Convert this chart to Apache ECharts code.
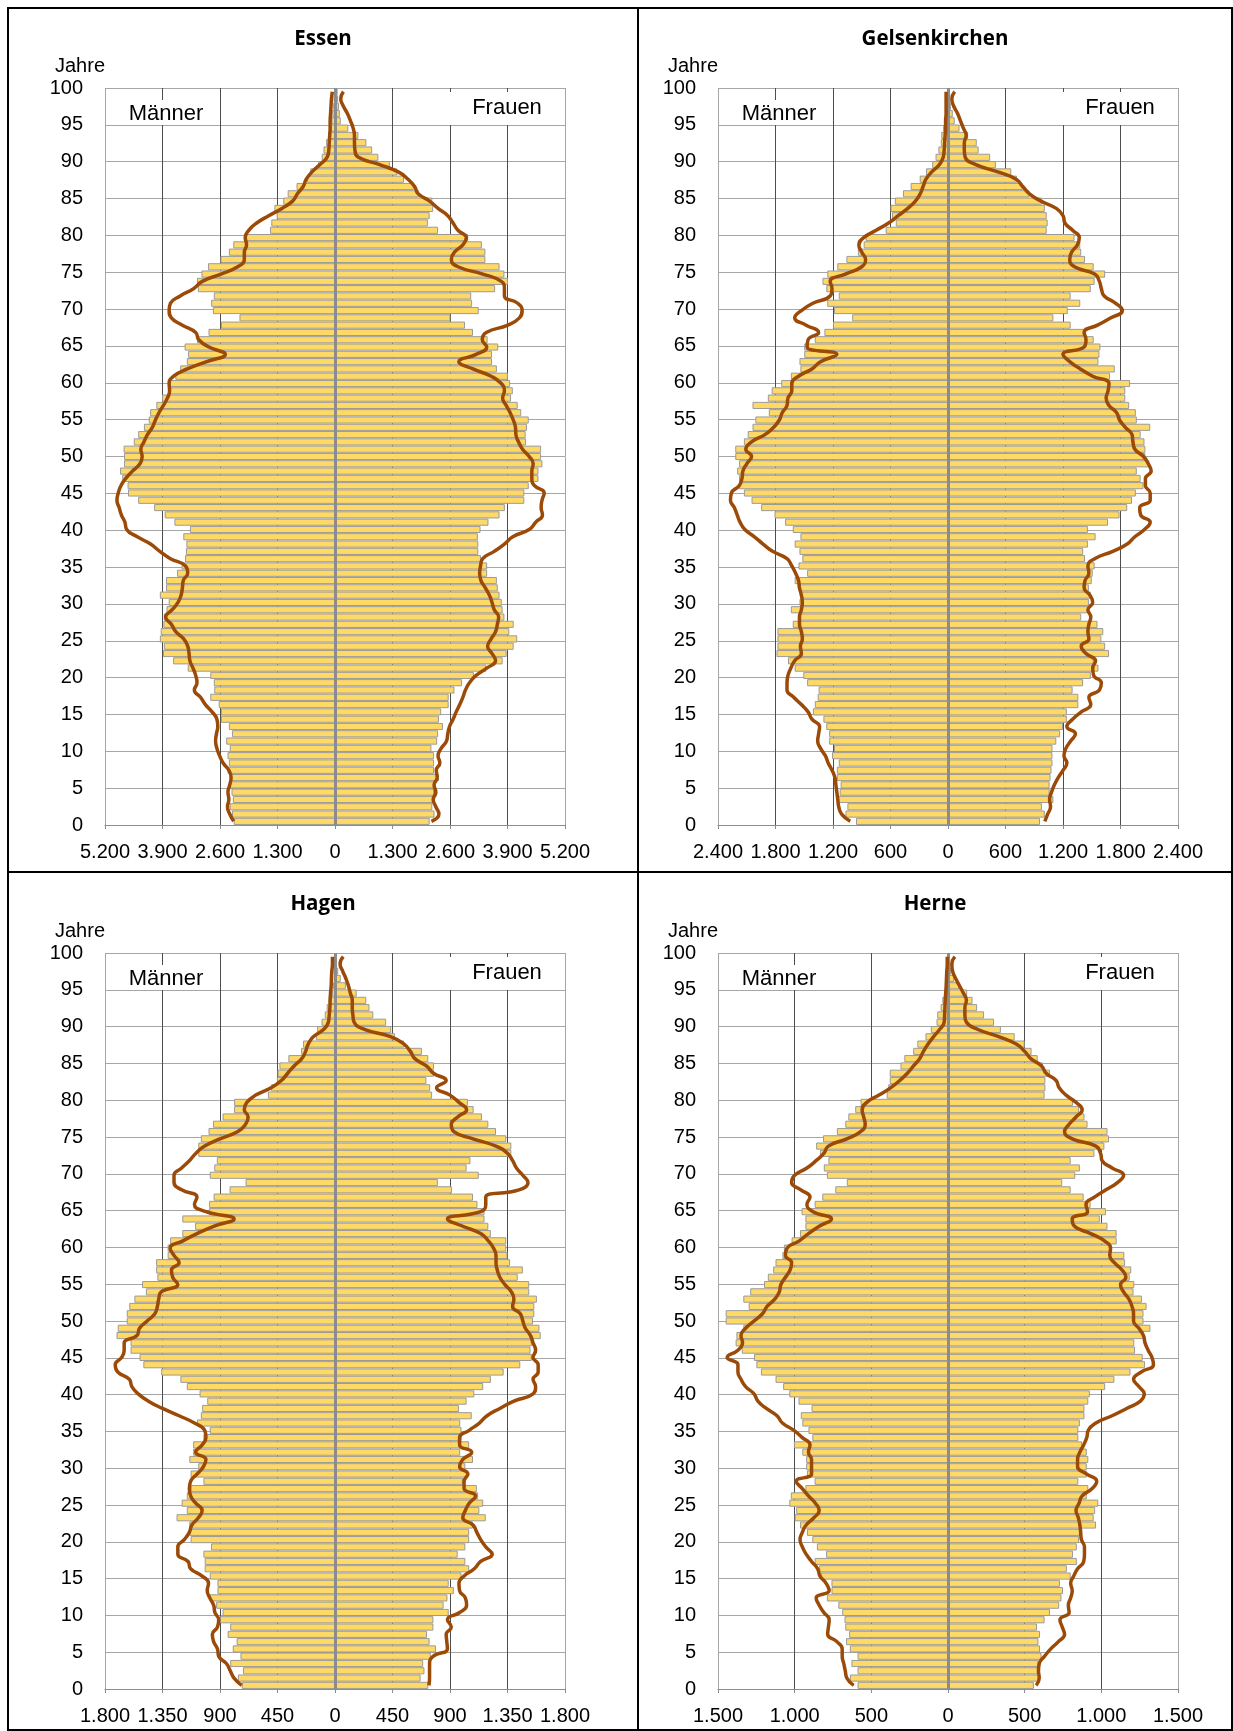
<!DOCTYPE html>
<html>
<head>
<meta charset="utf-8">
<script src="https://cdn.jsdelivr.net/npm/echarts@6/dist/echarts.min.js"></script>
<style>
html, body { margin: 0; padding: 0; background: #fff; }
#main { width: 1233px; height: 1731px; }
</style>
</head>
<body>
<div id="main"></div>
<script>
// Altersklassen von 100 (oben) bis 0 (unten)
var ages = [];
for (var a = 100; a >= 0; a--) { ages.push(String(a)); }

// alle Reihen: Alter 100 -> 0
var essenMenBars = [20,30,40,60,80,110,150,200,260,300, 380,560,640,870,1070,1170,1370,1320,1440,1470,
	2010,2300,2400,2590,2870,3020,3120,3100,2740,2800, 2760,2160,2580,2860,3120,3400,3320,3350,3500,3610,
	3760,3760,3910,4040,4180,4210,4320,4450,4550,4780,
	4770,4770,4860,4810,4690,4680,4450,4090,3850,3630, 3280,3430,3360,3370,3390,3470,3570,3820,3820,3960,
	3760,3810,3870,3880,3940,3960,3870,3890,3660,3330, 2820,2740,2730,2820,2630,2580,2580,2400,2330,2460,
	2380,2430,2400,2430,2370,2380,2340,2310,2380,2330,2290];
var essenWomenBars = [60,70,90,110,130,300,530,710,840,980, 1240,1410,1560,1780,1900,2200,2220,2140,2100,2330,
	3010,3320,3400,3400,3720,3830,3910,3620,3080,3100, 3250,2610,2940,3120,3450,3690,3550,3550,3660,3910,
	3960,4020,3980,4130,4210,4380,4340,4310,4320,4660,
	4660,4690,4600,4600,4380,4280,4280,3840,3720,3470, 3290,3230,3240,3240,3300,3440,3440,3660,3680,3720,
	3770,3790,3830,4040,3940,4120,4040,3880,3790,3420, 3140,2870,2700,2570,2570,2400,2350,2440,2330,2310,
	2180,2240,2240,2240,2350,2240,2240,2240,2200,2250,2140];
var essenMenLine = [60,80,90,100,110,110,120,130,140,180, 340,520,650,720,850,960,1200,1500,1770,1950,
	2030,2000,2050,2050,2200,2580,3000,3200,3500,3720, 3750,3700,3450,3150,3080,2850,2480,2900,3340,3650,
	3750,3740,3790,3880,3980,4060,4130,4240,4320,4390,
	4360,4410,4580,4730,4840,4900,4930,4880,4830,4750, 4710,4470,4170,3960,3720,3380,3330,3430,3450,3480,
	3550,3680,3830,3700,3600,3420,3330,3300,3280,3210, 3150,3120,3180,3040,2930,2780,2670,2650,2680,2700,
	2670,2610,2530,2400,2350,2380,2420,2400,2430,2380,2290];
var essenWomenLine = [190,130,190,280,350,410,440,440,450,530, 1010,1430,1650,1800,1880,2140,2330,2550,2670,2780,
	2970,2890,2700,2630,2780,3340,3760,3830,3830,4130, 4230,4170,3910,3420,3330,3430,3190,2800,3120,3530,
	3760,3830,3790,3870,3960,4030,4080,4090,4150,4240,
	4390,4480,4450,4450,4510,4730,4680,4660,4690,4540, 4390,4020,3830,3600,3340,3290,3270,3300,3400,3490,
	3550,3600,3700,3670,3630,3530,3450,3550,3630,3430, 3190,3040,2950,2890,2820,2740,2670,2590,2550,2520,
	2400,2330,2370,2290,2310,2240,2280,2220,2280,2350,2180];

var gelsMenBars = [10,15,20,20,35,50,70,75,100,130, 165,230,295,390,470,555,600,585,545,650,
	860,880,940,1060,1155,1260,1310,1270,1140,1260, 1190,1000,1200,1290,1390,1500,1500,1550,1540,1640,
	1740,1840,1880,2040,1870,2010,2040,2090,2130,2220,
	2220,2180,2200,2180,2180,2130,2050,1950,1810,1700, 1620,1540,1600,1550,1520,1560,1470,1600,1550,1540,
	1550,1640,1550,1620,1780,1780,1780,1790,1670,1600, 1510,1470,1350,1360,1390,1410,1300,1270,1240,1240,
	1190,1210,1140,1160,1160,1120,1130,1150,1050,1070,960];
var gelsWomenBars = [10,15,30,50,70,120,210,300,320,440, 500,660,720,780,850,980,1010,1030,1040,1030,
	1320,1380,1390,1430,1520,1640,1530,1490,1280,1380, 1250,1100,1280,1440,1520,1590,1580,1570,1740,1690,
	1900,1850,1850,1890,1960,1970,2110,2010,2050,2060,
	2060,2100,1970,2010,2040,1960,1920,1870,1790,1670, 1460,1540,1460,1410,1430,1530,1510,1500,1470,1490,
	1470,1460,1390,1560,1620,1600,1640,1680,1520,1570, 1490,1410,1300,1360,1360,1240,1240,1200,1170,1130,
	1090,1090,1090,1080,1070,1060,1060,1100,980,1010,960];
var gelsMenLine = [20,20,20,20,25,25,30,35,40,50, 90,170,230,260,290,340,420,520,620,750,
	880,930,900,860,900,1070,1230,1210,1230,1410, 1530,1600,1480,1350,1460,1470,1160,1330,1420,1560,
	1630,1630,1670,1680,1730,1760,1820,1910,2050,2110,
	2050,2100,2140,2150,2180,2260,2270,2230,2200,2170, 2120,2020,1930,1830,1680,1630,1590,1560,1550,1530,
	1520,1530,1550,1550,1530,1520,1540,1530,1600,1640, 1670,1680,1680,1610,1530,1460,1420,1340,1350,1360,
	1330,1280,1250,1210,1180,1170,1160,1150,1140,1110,1020];
var gelsWomenLine = [70,40,60,100,130,160,190,170,170,180, 290,520,710,780,850,970,1130,1200,1220,1300,
	1370,1350,1290,1270,1320,1530,1580,1600,1630,1750, 1820,1700,1560,1420,1440,1420,1200,1270,1380,1510,
	1680,1670,1650,1680,1760,1790,1850,1920,1930,1950,
	2040,2090,2120,2060,2060,2110,2110,2000,2010,2110, 2050,1950,1870,1720,1530,1460,1470,1430,1420,1480,
	1510,1460,1490,1470,1460,1470,1390,1440,1540,1510, 1520,1600,1580,1470,1490,1390,1300,1240,1330,1280,
	1230,1210,1240,1200,1150,1110,1080,1060,1070,1040,1010];

var hagenMenBars = [5,8,10,10,15,25,50,65,80,105, 140,150,250,265,365,435,450,455,500,525,
	790,790,880,955,990,1050,1070,1070,925,945, 980,700,825,950,985,985,1195,1095,1195,1290,
	1310,1310,1400,1400,1390,1510,1480,1570,1610,1630,
	1630,1700,1710,1600,1600,1530,1500,1360,1210,1160, 1060,1000,1040,1050,1080,980,1030,1110,1110,1140,
	1070,1130,1030,1130,1160,1200,1160,1240,1140,1140, 1130,970,1030,1020,1020,980,920,920,980,930,
	880,900,820,840,770,800,740,820,720,760,730];
var hagenWomenBars = [10,15,25,45,85,170,245,270,300,400, 440,470,540,680,730,775,775,715,745,760,
	1040,1085,1150,1200,1260,1340,1380,1380,1060,1030, 1125,805,915,1080,1115,1170,1170,1200,1220,1340,
	1340,1350,1370,1470,1430,1520,1520,1580,1560,1560,
	1550,1600,1610,1540,1530,1540,1450,1320,1220,1160, 1090,1030,970,1070,980,990,990,1050,980,1080,
	1020,1040,1000,1110,1120,1160,1130,1180,1080,1050, 1050,1020,960,1020,1050,990,890,930,880,850,
	890,770,770,720,740,790,750,690,700,670,730];
var hagenMenLine = [20,20,25,28,30,35,38,40,45,52, 90,170,210,230,260,320,370,420,500,620,
	690,710,680,700,760,900,1020,1090,1140,1200, 1260,1260,1200,1080,1100,1010,790,950,1080,1190,
	1290,1260,1220,1280,1270,1230,1360,1380,1390,1410,
	1470,1530,1550,1650,1650,1670,1720,1700,1610,1590, 1540,1460,1350,1220,1100,1020,1010,1040,1090,1010,
	1030,1080,1130,1140,1130,1090,1040,1070,1120,1140, 1180,1230,1230,1150,1130,1040,990,1000,980,950,
	940,910,920,960,950,920,910,850,820,790,730];
var hagenWomenLine = [65,40,60,85,105,120,135,135,140,150, 235,440,540,590,625,715,770,870,795,900,
	970,1030,960,910,930,1080,1260,1350,1390,1420, 1470,1510,1440,1180,1180,1140,880,1000,1140,1200,
	1240,1260,1260,1270,1290,1330,1380,1400,1390,1450,
	1470,1490,1530,1550,1570,1550,1590,1590,1550,1570, 1550,1400,1290,1190,1130,1050,975,975,1070,1000,
	975,1040,1010,1010,1100,1050,1020,1000,1080,1110, 1140,1180,1230,1140,1090,1010,970,975,1020,1030,
	975,880,910,870,875,880,770,740,740,740,735];

var herneMenBars = [5,8,10,10,15,22,37,48,70,75, 112,147,200,227,285,310,380,380,390,400,
	570,605,650,670,725,815,860,835,780,810, 790,660,735,820,870,955,930,930,965,1020,
	1070,1080,1125,1140,1175,1200,1290,1335,1300,1450,
	1450,1335,1380,1385,1345,1265,1250,1220,1125,1075, 1035,975,890,960,950,910,885,1005,950,925,
	925,920,870,930,1025,1035,990,1000,965,920, 885,855,795,870,840,830,760,760,790,715,
	690,675,670,645,665,640,590,630,590,640,590];
var herneWomenBars = [5,10,20,40,75,125,160,190,235,300, 345,435,500,545,585,620,665,635,635,630,
	815,855,890,910,1040,1050,1020,955,800,860, 830,745,800,885,930,1030,990,1040,1100,1100,
	1070,1150,1155,1195,1185,1215,1210,1265,1295,1275,
	1275,1320,1275,1215,1220,1270,1285,1190,1085,1025, 925,915,890,890,860,850,850,875,905,915,
	905,905,850,915,905,980,960,950,965,875, 855,840,815,840,775,800,730,750,740,725,
	665,630,580,600,590,600,610,590,600,600,560];
var herneMenLine = [5,5,8,10,12,15,18,20,22,25, 55,95,130,160,185,225,265,315,375,450,
	530,560,550,540,570,660,780,810,860,920, 1000,1020,960,900,920,880,760,840,910,970,
	1050,1060,1020,1030,1060,1090,1100,1130,1180,1210,
	1265,1320,1350,1340,1370,1440,1370,1370,1350,1320, 1265,1240,1185,1115,1080,1005,950,900,910,890,
	890,890,990,950,910,865,840,875,925,950, 965,950,925,890,850,835,795,775,860,840,
	810,775,780,785,725,690,690,680,670,660,615];
var herneWomenLine = [45,25,30,50,75,100,120,110,110,120, 195,335,445,500,540,610,640,705,725,770,
	835,875,835,790,760,810,965,995,1005,1070, 1145,1105,1030,955,900,910,810,825,930,1020,
	1060,1055,1085,1135,1160,1125,1145,1180,1200,1210,
	1210,1245,1275,1285,1305,1330,1340,1260,1210,1245, 1280,1255,1165,1070,965,915,905,885,860,845,
	845,905,970,940,875,855,835,850,860,865, 870,890,890,885,845,820,800,810,800,785,
	790,730,745,760,720,670,630,595,590,595,575];

var panels = [
	{ name: 'Essen', left: 105, top: 88, height: 737, max: 5200, step: 1300,
		menBars: essenMenBars, womenBars: essenWomenBars, menLine: essenMenLine, womenLine: essenWomenLine },
	{ name: 'Gelsenkirchen', left: 718, top: 88, height: 737, max: 2400, step: 600,
		menBars: gelsMenBars, womenBars: gelsWomenBars, menLine: gelsMenLine, womenLine: gelsWomenLine },
	{ name: 'Hagen', left: 105, top: 953, height: 736, max: 1800, step: 450,
		menBars: hagenMenBars, womenBars: hagenWomenBars, menLine: hagenMenLine, womenLine: hagenWomenLine },
	{ name: 'Herne', left: 718, top: 953, height: 736, max: 1500, step: 500,
		menBars: herneMenBars, womenBars: herneWomenBars, menLine: herneMenLine, womenLine: herneWomenLine }
];

var FONT = '"Liberation Sans", Arial, sans-serif';
var PLOT_W = 460;

function fmt(v) {
	return String(Math.abs(v)).replace(/\B(?=(\d{3})+(?!\d))/g, '.');
}
function neg(arr) {
	return arr.map(function (v) { return -v; });
}
function textEl(x, y, text, size, weight, fontFamily) {
	return {
		type: 'text', x: x, y: y, z: 20,
		style: {
			text: text, fill: '#000', align: 'center', verticalAlign: 'middle',
			font: (weight || 'normal') + ' ' + size + 'px ' + (fontFamily || FONT)
		}
	};
}

var chart = echarts.init(document.getElementById('main'));
var grids = [], xAxes = [], yAxes = [], series = [], graphics = [];

panels.forEach(function (p, i) {
	var n = Math.round(2 * p.max / p.step) + 1;
	var vColors = [];
	for (var k = 0; k < n; k++) {
		vColors.push(k === 0 || k === n - 1 ? '#a6a6a6' : '#4d4d4d');
	}
	grids.push({ left: p.left, top: p.top, width: PLOT_W, height: p.height, containLabel: false });

	xAxes.push({
		gridIndex: i, type: 'value', min: -p.max, max: p.max, interval: p.step,
		axisLine: { show: true, onZero: false, lineStyle: { color: '#8c8c8c', width: 1 } },
		axisTick: { show: true, length: 4, lineStyle: { color: '#8c8c8c' } },
		axisLabel: { formatter: fmt, fontSize: 20, color: '#000', fontFamily: FONT, margin: 17 },
		splitLine: { show: true, lineStyle: { color: vColors, width: 1 } }
	});
	// versteckte Kategorieachse fuer Balken und Linien
	yAxes.push({
		gridIndex: i, type: 'category', data: ages, inverse: true, show: false, boundaryGap: true,
		position: 'left'
	});
	// sichtbare Altersachse mit Gitter
	yAxes.push({
		gridIndex: i, type: 'value', min: 0, max: 100, interval: 5, position: 'left',
		axisLine: { show: false, onZero: false }, axisTick: { show: false },
		axisLabel: { fontSize: 20, color: '#000', fontFamily: FONT, margin: 22 },
		splitLine: { show: true, lineStyle: { color: '#a6a6a6', width: 1 } }
	});

	var barStyle = { color: '#ffd966', borderColor: '#9a9a9a', borderWidth: 1 };
	series.push({
		name: p.name + ' Männer', type: 'bar', xAxisIndex: i, yAxisIndex: 2 * i,
		stack: 'pyr' + i, barCategoryGap: '2%', data: neg(p.menBars),
		itemStyle: barStyle, silent: true
	});
	series.push({
		name: p.name + ' Frauen', type: 'bar', xAxisIndex: i, yAxisIndex: 2 * i,
		stack: 'pyr' + i, barCategoryGap: '2%', data: p.womenBars,
		itemStyle: barStyle, silent: true,
		markLine: {
			silent: true, symbol: ['none', 'none'], z: 5,
			label: { show: false },
			lineStyle: { color: '#8c8c8c', width: 3, type: 'solid' },
			data: [{ xAxis: 0 }]
		}
	});
	var lineStyle = { color: '#9c4a08', width: 3.5 };
	series.push({
		type: 'line', xAxisIndex: i, yAxisIndex: 2 * i, data: neg(p.menLine),
		smooth: true, symbol: 'none', lineStyle: lineStyle, z: 6, silent: true
	});
	series.push({
		type: 'line', xAxisIndex: i, yAxisIndex: 2 * i, data: p.womenLine,
		smooth: true, symbol: 'none', lineStyle: lineStyle, z: 6, silent: true
	});

	var dx = p.left - 105, dy = p.top - 88;
	var panelCenter = i % 2 === 0 ? 323 : 935;
	graphics.push(textEl(panelCenter, 39 + dy, p.name, 20.5, 'bold', '"Open Sans", sans-serif'));
	graphics.push(textEl(80 + dx, 66 + dy, 'Jahre', 20));
	// weisse Kaesten hinter Maenner / Frauen
	graphics.push({ type: 'rect', z: 19, shape: { x: 113 + dx, y: 100 + dy, width: 105, height: 25 }, style: { fill: '#fff' } });
	graphics.push({ type: 'rect', z: 19, shape: { x: 450 + dx, y: 92 + dy, width: 114, height: 33 }, style: { fill: '#fff' } });
	graphics.push(textEl(166 + dx, 114 + dy, 'Männer', 22));
	graphics.push(textEl(507 + dx, 108 + dy, 'Frauen', 22));
});

// Rahmen der vier Felder
graphics.push({ type: 'rect', z: 30, shape: { x: 8, y: 8, width: 1224, height: 1722 }, style: { fill: 'none', stroke: '#000', lineWidth: 2 } });
graphics.push({ type: 'line', z: 30, shape: { x1: 638, y1: 8, x2: 638, y2: 1730 }, style: { stroke: '#000', lineWidth: 2 } });
graphics.push({ type: 'line', z: 30, shape: { x1: 8, y1: 872, x2: 1232, y2: 872 }, style: { stroke: '#000', lineWidth: 2 } });

chart.setOption({
	animation: false,
	backgroundColor: '#fff',
	grid: grids,
	xAxis: xAxes,
	yAxis: yAxes,
	series: series,
	graphic: graphics
});
</script>
</body>
</html>
